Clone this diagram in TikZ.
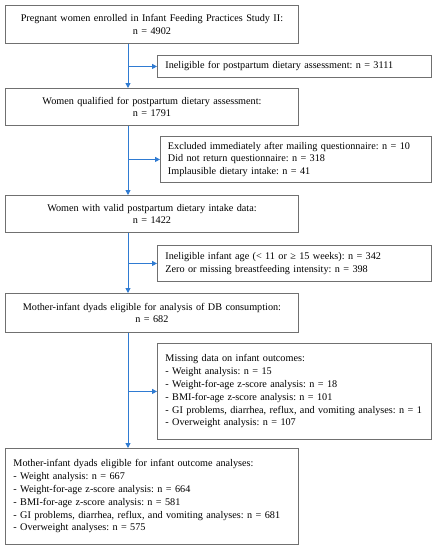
\documentclass[tikz,border=0pt]{standalone}
\usepackage{fontspec}
\setmainfont{Liberation Serif}
\usetikzlibrary{arrows.meta}
\definecolor{boxgray}{HTML}{707070}
\definecolor{flowblue}{HTML}{2F7BD2}
\frenchspacing
\begin{document}
\begin{tikzpicture}[x=1pt,y=-1pt,
  font=\fontsize{10.2}{12.8}\selectfont,
  mainbox/.style={draw=boxgray, line width=0.9pt, anchor=north west, inner xsep=8pt, inner ysep=0pt},
  flow/.style={draw=flowblue, line width=1pt, -{Triangle[length=5pt,width=5pt]}}]
\useasboundingbox (0,0) rectangle (435,550);
\node[mainbox, minimum width=293pt, minimum height=38pt, text width=277pt, align=center] (b1) at (5,5)
  {Pregnant women enrolled in Infant Feeding Practices Study II:\\ n = 4902};
\node[mainbox, minimum width=293pt, minimum height=37pt, text width=277pt, align=center] (b2) at (5,88)
  {Women qualified for postpartum dietary assessment:\\ n = 1791};
\node[mainbox, minimum width=293pt, minimum height=37pt, text width=277pt, align=center] (b3) at (5,195)
  {Women with valid postpartum dietary intake data:\\ n = 1422};
\node[mainbox, minimum width=293pt, minimum height=39pt, text width=277pt, align=center] (b4) at (5,293)
  {Mother-infant dyads eligible for analysis of DB consumption:\\ n = 682};
\node[mainbox, minimum width=293pt, minimum height=96pt, text width=277pt, align=left] (b5) at (5,448)
  {Mother-infant dyads eligible for infant outcome analyses:\\
   - Weight analysis: n = 667\\
   - Weight-for-age z-score analysis: n = 664\\
   - BMI-for-age z-score analysis: n = 581\\
   - GI problems, diarrhea, reflux, and vomiting analyses: n = 681\\
   - Overweight analyses: n = 575};
\node[mainbox, minimum width=274pt, minimum height=22pt, text width=258pt, align=left] (s1) at (157,55)
  {Ineligible for postpartum dietary assessment: n = 3111};
\node[mainbox, minimum width=271pt, minimum height=46pt, text width=256pt, inner xsep=7.5pt, align=left] (s2) at (160,136)
  {Excluded immediately after mailing questionnaire: n = 10\\
   Did not return questionnaire: n = 318\\
   Implausible dietary intake: n = 41};
\node[mainbox, minimum width=274pt, minimum height=36pt, text width=258pt, align=left] (s3) at (157,245)
  {Ineligible infant age (< 11 or ≥ 15 weeks): n = 342\\
   Zero or missing breastfeeding intensity: n = 398};
\node[mainbox, minimum width=274pt, minimum height=96pt, text width=258pt, align=left] (s4) at (157,343)
  {Missing data on infant outcomes:\\
   - Weight analysis: n = 15\\
   - Weight-for-age z-score analysis: n = 18\\
   - BMI-for-age z-score analysis: n = 101\\
   - GI problems, diarrhea, reflux, and vomiting analyses: n = 1\\
   - Overweight analysis: n = 107};
\coordinate (v1) at (128,0 |- s1.west);
\coordinate (v2) at (128,0 |- s2.west);
\coordinate (v3) at (128,0 |- s3.west);
\coordinate (v4) at (128,0 |- s4.west);
\draw[flow] (b1.south -| v1) -- (b2.north -| v1);
\draw[flow] (b2.south -| v1) -- (b3.north -| v1);
\draw[flow] (b3.south -| v1) -- (b4.north -| v1);
\draw[flow] (b4.south -| v1) -- (b5.north -| v1);
\draw[flow] (v1) -- (s1.west);
\draw[flow] (v2) -- (s2.west);
\draw[flow] (v3) -- (s3.west);
\draw[flow] (v4) -- (s4.west);
\end{tikzpicture}
\end{document}
